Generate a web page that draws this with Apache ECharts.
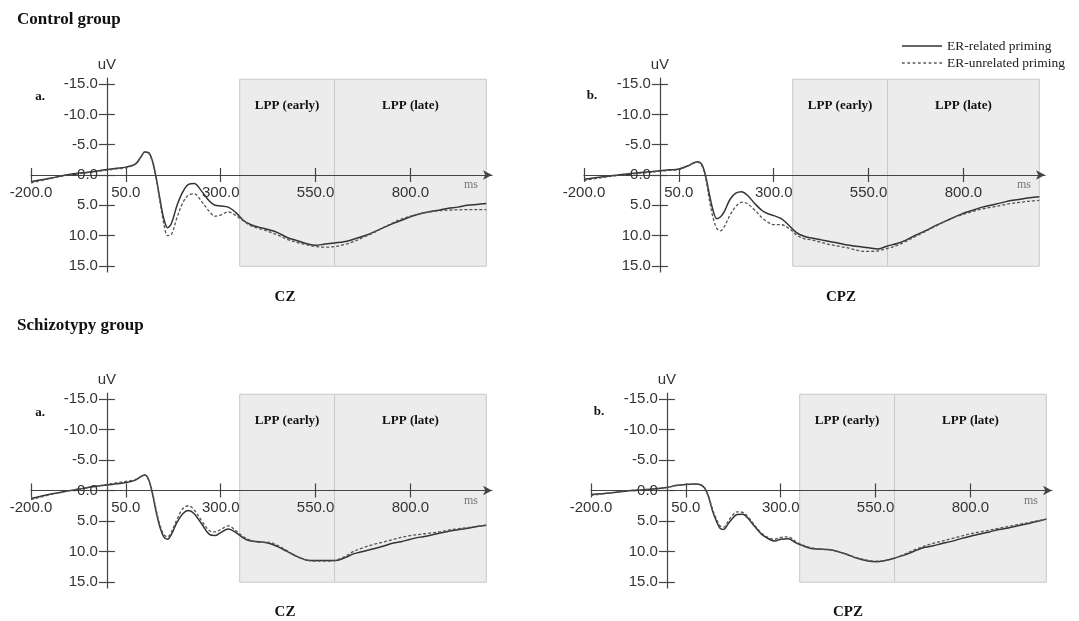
<!DOCTYPE html>
<html>
<head>
<meta charset="utf-8">
<script src="https://cdn.jsdelivr.net/npm/echarts@6/dist/echarts.min.js"></script>
<style>
html,body{margin:0;padding:0;background:#fff;}
#chart{width:1079px;height:621px;}
</style>
</head>
<body>
<div id="chart"></div>
<script>
// ---- data ----
const ms = [-200,-150,-100,-50,0,25,50,75,90,100,110,120,130,140,150,160,170,185,200,215,230,250,270,285,300,320,340,360,380,400,425,450,475,500,525,550,575,600,625,650,675,700,725,750,775,800,825,850,875,900,925,950,975,1000];

const czControlRelated = [1.1,0.55,-0.1,-0.45,-0.9,-1.1,-1.3,-1.8,-3.0,-3.8,-3.7,-2.3,0.5,4.0,7.2,8.7,8.0,5.0,2.8,1.55,1.4,2.7,4.3,5.0,5.1,5.3,6.2,7.5,8.2,8.6,9.0,9.5,10.3,10.8,11.3,11.6,11.4,11.2,11.0,10.6,10.1,9.5,8.8,8.1,7.5,6.9,6.4,6.05,5.8,5.5,5.3,5.0,4.85,4.7];
const czControlUnrelated = [1.3,0.6,0,-0.4,-0.8,-1.0,-1.2,-1.8,-3.0,-3.8,-3.6,-2.2,0.7,4.5,8.0,10.0,9.8,7.0,4.6,3.3,3.1,4.4,6.0,6.8,6.6,6.1,6.7,7.6,8.4,8.8,9.3,9.9,10.6,11.1,11.5,11.8,11.9,11.8,11.5,11.0,10.3,9.6,8.8,8.0,7.3,6.8,6.4,6.1,5.9,5.8,5.75,5.7,5.7,5.7];
const cpzControlRelated = [0.7,0.3,-0.1,-0.4,-0.7,-0.85,-1.0,-1.55,-2.05,-2.2,-1.8,0,3.05,5.8,7.2,6.9,6.0,4.0,3.0,2.75,3.3,4.7,5.9,6.4,6.7,7.2,8.3,9.5,10.1,10.4,10.7,11.0,11.3,11.6,11.8,12.0,12.2,11.7,11.3,10.7,9.9,9.2,8.4,7.7,7.0,6.3,5.8,5.3,4.95,4.6,4.2,4.0,3.75,3.6];
const cpzControlUnrelated = [0.9,0.4,0,-0.3,-0.6,-0.75,-0.9,-1.5,-1.95,-2.1,-1.6,0.3,4.0,7.0,8.8,9.2,8.5,6.6,5.2,4.5,4.7,5.8,7.1,7.8,8.2,8.2,8.8,9.9,10.5,10.7,11.1,11.5,11.8,12.1,12.5,12.6,12.5,12.1,11.6,10.9,10.1,9.3,8.5,7.7,7.0,6.5,6.0,5.6,5.3,5.0,4.7,4.5,4.3,4.2];
const czSchizoRelated = [1.3,0.6,0.05,-0.5,-0.9,-1.1,-1.3,-1.7,-2.3,-2.55,-1.8,0.5,3.55,6.05,7.6,8.0,7.2,5.2,3.8,3.3,3.8,5.5,7.2,7.4,6.9,6.3,6.9,7.8,8.3,8.4,8.6,9.2,10.0,10.8,11.4,11.5,11.5,11.5,11.1,10.4,10.0,9.6,9.2,8.7,8.4,8.0,7.65,7.4,7.0,6.7,6.45,6.2,5.9,5.7];
const czSchizoUnrelated = [1.5,0.7,0.05,-0.5,-1.0,-1.25,-1.5,-1.8,-2.3,-2.5,-1.7,0.3,3.2,5.7,7.2,7.6,6.8,4.7,3.0,2.5,3.2,5.0,6.6,6.8,6.4,5.8,6.6,7.6,8.2,8.5,8.5,9.0,9.9,10.8,11.4,11.6,11.6,11.5,10.9,10.0,9.4,8.9,8.5,8.1,7.7,7.4,7.2,7.0,6.8,6.5,6.3,6.1,5.9,5.7];
const cpzSchizoRelated = [0.65,0.4,0.05,-0.15,-0.5,-0.85,-1.0,-1.05,-0.9,-0.35,1.05,3.3,4.95,6.2,6.4,5.6,4.8,3.95,3.9,4.65,5.8,7.2,8.0,8.3,8.0,7.9,8.6,9.1,9.5,9.6,9.7,10.0,10.5,11.1,11.5,11.7,11.5,11.1,10.6,10.0,9.4,9.1,8.7,8.35,7.9,7.5,7.15,6.8,6.4,6.15,5.8,5.45,5.1,4.7];
const cpzSchizoUnrelated = [0.8,0.4,0,-0.2,-0.5,-0.8,-1.0,-1.05,-0.9,-0.4,1.0,3.0,4.6,5.8,6.0,5.2,4.3,3.5,3.6,4.4,5.6,7.0,7.8,8.0,7.7,7.6,8.4,9.0,9.4,9.6,9.7,10.0,10.5,11.0,11.4,11.6,11.5,11.1,10.5,9.8,9.2,8.7,8.3,7.9,7.5,7.1,6.8,6.5,6.2,5.9,5.6,5.3,5.0,4.7];

const xTickValues = [-200, 50, 300, 550, 800];
const xTickLabels = ['-200.0', '50.0', '300.0', '550.0', '800.0'];
const yTickValues = [-15, -10, -5, 0, 5, 10, 15];
const yTickLabels = ['-15.0', '-10.0', '-5.0', '-0.0', '5.0', '10.0', '15.0'];
const lppEarly = [350, 600];
const lppLate = [600, 1000];
const lppRangeUV = [-15.8, 15.05];
const seriesNames = ['ER-related priming', 'ER-unrelated priming'];
const panelLetters = ['a.', 'b.', 'a.', 'b.'];
const electrodes = ['CZ', 'CPZ', 'CZ', 'CPZ'];
const groupTitles = ['Control group', 'Schizotypy group'];

// ---- layout / style ----
const SERIF = "'Liberation Serif', 'DejaVu Serif', serif";
const SANS = "'Liberation Sans', Arial, sans-serif";
const AX = '#444';
const X_MIN = -200, X_MAX = 1015, Y_MIN = -16, Y_MAX = 16;

const panels = [
  {grid: {left: 31, top: 78, width: 461, height: 194}, rel: czControlRelated, unrel: czControlUnrelated,
   letter: [40, 97], elec: [285, 297]},
  {grid: {left: 584, top: 78, width: 461, height: 194}, rel: cpzControlRelated, unrel: cpzControlUnrelated,
   letter: [592, 96], elec: [841, 297]},
  {grid: {left: 31, top: 393, width: 461, height: 195}, rel: czSchizoRelated, unrel: czSchizoUnrelated,
   letter: [40, 413], elec: [285, 612]},
  {grid: {left: 591, top: 393, width: 461, height: 195}, rel: cpzSchizoRelated, unrel: cpzSchizoUnrelated,
   letter: [599, 412], elec: [848, 612]}
];

function dashPath(w, dash, gap, h) {
  let d = '';
  for (let x = 0; x < w; x += dash + gap) d += 'M' + x + ',0h' + Math.min(dash, w - x) + 'v' + h + 'h-' + Math.min(dash, w - x) + 'z ';
  return 'path://' + d.trim();
}

const grids = [], xAxes = [], yAxes = [], series = [], graphics = [];

panels.forEach((p, i) => {
  grids.push(Object.assign({containLabel: false, outerBoundsMode: 'none'}, p.grid));
  const g = p.grid;
  const fracX0 = (0 - X_MIN) / (X_MAX - X_MIN);
  const fracY0 = (0 - Y_MIN) / (Y_MAX - Y_MIN);
  const xOffBottom = -(g.height * (1 - fracY0));
  const xOffTop = -(g.height * fracY0);
  const yOffLeft = -(g.width * fracX0);
  const yOffRight = -(g.width * (1 - fracX0));
  const xi = 2 * i, yi = 2 * i;
  xAxes.push({
    type: 'value', gridIndex: i, position: 'bottom', offset: xOffBottom, min: X_MIN, max: X_MAX, z: 5,
    axisLine: {show: true, onZero: false, symbol: ['none', 'arrow'], symbolSize: [7, 9],
      lineStyle: {color: AX, width: 1.2}},
    axisTick: {show: true, customValues: xTickValues, length: 7, lineStyle: {color: AX, width: 1.2}},
    axisLabel: {show: true, customValues: xTickValues, margin: 10, color: '#333', fontSize: 15, fontFamily: SANS,
      formatter: v => xTickLabels[xTickValues.indexOf(v)] || ''},
    splitLine: {show: false},
    name: 'ms', nameLocation: 'end', nameGap: -28,
    nameTextStyle: {fontFamily: SERIF, fontSize: 12, color: '#777', align: 'left', verticalAlign: 'top', padding: [4, 0, 0, 0]}
  });
  xAxes.push({
    type: 'value', gridIndex: i, position: 'top', offset: xOffTop, min: X_MIN, max: X_MAX, z: 5,
    axisLine: {show: false, onZero: false},
    axisTick: {show: true, customValues: xTickValues, length: 7, lineStyle: {color: AX, width: 1.2}},
    axisLabel: {show: false}, splitLine: {show: false}
  });
  yAxes.push({
    type: 'value', gridIndex: i, position: 'left', offset: yOffLeft, inverse: true, min: Y_MIN, max: Y_MAX, z: 5,
    axisLine: {show: true, onZero: false, lineStyle: {color: AX, width: 1.2}},
    axisTick: {show: true, customValues: yTickValues, length: 8, lineStyle: {color: AX, width: 1.2}},
    axisLabel: {show: true, customValues: yTickValues, margin: 9, color: '#333', fontSize: 15, fontFamily: SANS,
      formatter: v => yTickLabels[yTickValues.indexOf(v)] || ''},
    splitLine: {show: false},
    name: 'uV', nameLocation: 'start', nameGap: 6,
    nameTextStyle: {fontFamily: SANS, fontSize: 15, color: '#333'}
  });
  yAxes.push({
    type: 'value', gridIndex: i, position: 'right', offset: yOffRight, inverse: true, min: Y_MIN, max: Y_MAX, z: 5,
    axisLine: {show: false, onZero: false},
    axisTick: {show: true, customValues: yTickValues, length: 8, lineStyle: {color: AX, width: 1.2}},
    axisLabel: {show: false}, splitLine: {show: false}
  });

  series.push({
    name: seriesNames[0], type: 'line', xAxisIndex: xi, yAxisIndex: yi, z: 3,
    data: ms.map((t, k) => [t, p.rel[k]]), symbol: 'none', smooth: 0.35,
    lineStyle: {color: '#333', width: 1.5, type: 'solid'}, itemStyle: {color: '#333'},
    markArea: {
      silent: true,
      itemStyle: {color: '#ececec', borderColor: '#c9c9c9', borderWidth: 1},
      label: {show: true, position: 'insideTop', distance: 20, fontFamily: SERIF, fontWeight: 'bold', fontSize: 13, color: '#111'},
      data: [
        [{name: 'LPP (early)', xAxis: lppEarly[0], yAxis: lppRangeUV[0]}, {xAxis: lppEarly[1], yAxis: lppRangeUV[1]}],
        [{name: 'LPP (late)', xAxis: lppLate[0], yAxis: lppRangeUV[0]}, {xAxis: lppLate[1], yAxis: lppRangeUV[1]}]
      ]
    }
  });
  series.push({
    name: seriesNames[1], type: 'line', xAxisIndex: xi, yAxisIndex: yi, z: 3,
    data: ms.map((t, k) => [t, p.unrel[k]]), symbol: 'none', smooth: 0.35,
    lineStyle: {color: '#555', width: 1.3, type: [3, 2]}, itemStyle: {color: '#555'}
  });

  graphics.push({type: 'text', style: {text: panelLetters[i], x: p.letter[0], y: p.letter[1], align: 'center', verticalAlign: 'middle',
    font: "bold 13px " + SERIF, fill: '#111'}});
  graphics.push({type: 'text', style: {text: electrodes[i], x: p.elec[0], y: p.elec[1], align: 'center', verticalAlign: 'middle',
    font: "bold 15px " + SERIF, fill: '#111'}});
});

graphics.push({type: 'text', style: {text: groupTitles[0], x: 17, y: 20, align: 'left', verticalAlign: 'middle', font: "bold 17px " + SERIF, fill: '#111'}});
graphics.push({type: 'text', style: {text: groupTitles[1], x: 17, y: 326, align: 'left', verticalAlign: 'middle', font: "bold 17px " + SERIF, fill: '#111'}});

const chart = echarts.init(document.getElementById('chart'), null, {renderer: 'canvas'});
chart.setOption({
  animation: false,
  backgroundColor: '#fff',
  grid: grids,
  xAxis: xAxes,
  yAxis: yAxes,
  legend: {
    data: [
      {name: seriesNames[0], icon: 'path://M0,0h40v1.3h-40z'},
      {name: seriesNames[1], icon: dashPath(40, 2.5, 2.5, 1.3)}
    ],
    orient: 'vertical', left: 897, top: 34, itemWidth: 40, itemHeight: 10, itemGap: 3,
    align: 'left', symbolKeepAspect: true,
    textStyle: {fontFamily: SERIF, fontSize: 13.5, color: '#222'},
    selectedMode: false
  },
  graphic: graphics,
  series: series
});
</script>
</body>
</html>
